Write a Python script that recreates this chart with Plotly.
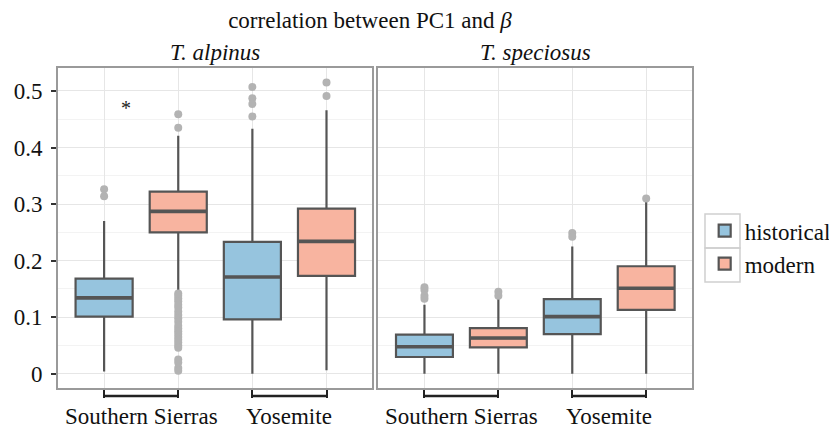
import plotly.graph_objects as go

# ---- data ----
positions = [1, 2, 3, 4]  # SS-hist, SS-mod, Y-hist, Y-mod
site_labels = ["Southern Sierras", "Yosemite"]
site_pos = [1.5, 3.5]
species = ["T. alpinus", "T. speciosus"]

# T. alpinus: historical boxes at x=1 (SS), x=3 (Yosemite); modern at x=2, x=4
alp_hist_x = [1, 3]
alp_hist_q1 = [0.101, 0.096]
alp_hist_med = [0.134, 0.171]
alp_hist_q3 = [0.168, 0.233]
alp_hist_lo = [0.004, 0.0]
alp_hist_hi = [0.270, 0.433]
alp_hist_out_x = [1, 1, 3, 3, 3, 3]
alp_hist_out_y = [0.326, 0.314, 0.507, 0.487, 0.477, 0.455]

alp_mod_x = [2, 4]
alp_mod_q1 = [0.250, 0.173]
alp_mod_med = [0.287, 0.234]
alp_mod_q3 = [0.322, 0.292]
alp_mod_lo = [0.148, 0.006]
alp_mod_hi = [0.421, 0.466]
alp_mod_out_x = [2, 2] + [2] * 23 + [4, 4]
alp_mod_out_y = [0.459, 0.435,
                 0.142, 0.138, 0.133, 0.128, 0.122, 0.117, 0.110, 0.104, 0.098,
                 0.092, 0.085, 0.080, 0.075, 0.070, 0.065, 0.060, 0.055, 0.050,
                 0.046, 0.025, 0.020, 0.010, 0.005,
                 0.515, 0.491]

# T. speciosus
spe_hist_x = [1, 3]
spe_hist_q1 = [0.0295, 0.070]
spe_hist_med = [0.0477, 0.101]
spe_hist_q3 = [0.069, 0.132]
spe_hist_lo = [0.0, 0.0]
spe_hist_hi = [0.122, 0.225]
spe_hist_out_x = [1, 1, 1, 1, 3, 3]
spe_hist_out_y = [0.153, 0.148, 0.138, 0.1325, 0.249, 0.242]

spe_mod_x = [2, 4]
spe_mod_q1 = [0.0465, 0.113]
spe_mod_med = [0.063, 0.151]
spe_mod_q3 = [0.0807, 0.190]
spe_mod_lo = [0.0, 0.0]
spe_mod_hi = [0.132, 0.307]
spe_mod_out_x = [2, 2, 4]
spe_mod_out_y = [0.145, 0.138, 0.310]

y_ticks = [0, 0.1, 0.2, 0.3, 0.4, 0.5]
y_ticktext = ["0", "0.1", "0.2", "0.3", "0.4", "0.5"]

# ---- style ----
FONT = "Liberation Serif"
FS = 23
HIST_FILL = "#96c4de"
MOD_FILL = "#f8b4a0"
LINE = "#555555"
OUT = "#b3b3b3"
BOXW = 0.77

fig = go.Figure()


def add_boxes(xa, ya, x, q1, med, q3, lo, hi, fill, name, show):
    fig.add_trace(go.Box(
        x=x, q1=q1, median=med, q3=q3, lowerfence=lo, upperfence=hi,
        width=BOXW, whiskerwidth=0, boxpoints=False,
        fillcolor=fill, line=dict(color=LINE, width=2.2),
        name=name, legendgroup=name, showlegend=show,
        xaxis=xa, yaxis=ya, hoverinfo="skip"))
    # thicker median bar (ggplot style)
    mx, my = [], []
    for xi, mi in zip(x, med):
        mx += [xi - BOXW / 2, xi + BOXW / 2, None]
        my += [mi, mi, None]
    fig.add_trace(go.Scatter(x=mx, y=my, mode="lines",
                             line=dict(color=LINE, width=3.6),
                             showlegend=False, xaxis=xa, yaxis=ya, hoverinfo="skip"))


def add_out(xa, ya, x, y):
    fig.add_trace(go.Scatter(
        x=x, y=y, mode="markers", marker=dict(color=OUT, size=8),
        showlegend=False, xaxis=xa, yaxis=ya, hoverinfo="skip"))


add_boxes("x", "y", alp_hist_x, alp_hist_q1, alp_hist_med, alp_hist_q3,
          alp_hist_lo, alp_hist_hi, HIST_FILL, "historical", True)
add_boxes("x", "y", alp_mod_x, alp_mod_q1, alp_mod_med, alp_mod_q3,
          alp_mod_lo, alp_mod_hi, MOD_FILL, "modern", True)
add_boxes("x2", "y2", spe_hist_x, spe_hist_q1, spe_hist_med, spe_hist_q3,
          spe_hist_lo, spe_hist_hi, HIST_FILL, "historical", False)
add_boxes("x2", "y2", spe_mod_x, spe_mod_q1, spe_mod_med, spe_mod_q3,
          spe_mod_lo, spe_mod_hi, MOD_FILL, "modern", False)
add_out("x", "y", alp_hist_out_x, alp_hist_out_y)
add_out("x", "y", alp_mod_out_x, alp_mod_out_y)
add_out("x2", "y2", spe_hist_out_x, spe_hist_out_y)
add_out("x2", "y2", spe_mod_out_x, spe_mod_out_y)

xrange = [0.378, 4.62]
yrange = [-0.0253, 0.5406]

xcommon = dict(range=xrange, tickvals=positions, showticklabels=False,
               ticks="outside", ticklen=8, tickwidth=2, tickcolor="#222222",
               showgrid=True, gridcolor="#e6e6e6", gridwidth=1,
               showline=True, linecolor="#9a9a9a", linewidth=1.6, mirror=True,
               zeroline=False, automargin=False)
ycommon = dict(range=yrange, tickvals=y_ticks, showgrid=True,
               gridcolor="#e6e6e6", gridwidth=1,
               minor=dict(dtick=0.05, tick0=0, showgrid=True, gridcolor="#f3f3f3", ticks=""),
               showline=True, linecolor="#9a9a9a", linewidth=1.6, mirror=True,
               zeroline=False, automargin=False)

d1 = [0, 0.496]
d2 = [0.5055, 1]
fig.update_layout(
    xaxis=dict(domain=d1, **xcommon),
    xaxis2=dict(domain=d2, **xcommon),
    yaxis=dict(ticktext=y_ticktext, ticks="outside", ticklen=5, tickwidth=1.5,
               tickcolor="#333333", ticklabelstandoff=4,
               tickfont=dict(family=FONT, size=FS, color="#111111"), **ycommon),
    yaxis2=dict(anchor="x2", matches="y", showticklabels=False, ticks="", **ycommon),
)

# strip (facet) titles
for dom, sp in zip([d1, d2], species):
    fig.add_annotation(text="<i>" + sp + "</i>", xref="paper", yref="paper",
                       x=(dom[0] + dom[1]) / 2, y=1.048, xanchor="center", yanchor="middle",
                       showarrow=False, font=dict(family=FONT, size=FS, color="#111111"))

# x category labels and brackets
for xa in ["x", "x2"]:
    for lab, p in zip(site_labels, site_pos):
        fig.add_annotation(text=lab, xref=xa, yref="paper", x=p, y=-0.09,
                           xanchor="center", yanchor="middle", showarrow=False,
                           font=dict(family=FONT, size=FS, color="#111111"))
        fig.add_shape(type="line", xref=xa, yref="paper", x0=p - 0.5, x1=p + 0.5,
                      y0=-0.025, y1=-0.025, line=dict(color="#222222", width=2.5))

# light frames around the legend keys (ggplot legend key background)
for y0, y1 in [(0.4375, 0.5438), (0.3312, 0.4375)]:
    fig.add_shape(type="rect", xref="paper", yref="paper", x0=1.0205, x1=1.0757,
                  y0=y0, y1=y1, line=dict(color="#cfcfcf", width=1.5),
                  fillcolor="rgba(0,0,0,0)", layer="below")

# significance asterisk
fig.add_annotation(text="*", xref="x", yref="y", x=1.3, y=0.47, showarrow=False,
                   font=dict(family=FONT, size=20, color="#222222"))

# the page body has an 8px margin: shrink the figure by 8px so it fits the window
fig.update_layout(
    width=829, height=422,
    margin=dict(l=50, r=145, t=60, b=42, autoexpand=False),
    paper_bgcolor="white", plot_bgcolor="white",
    boxmode="overlay",
    title=dict(text="correlation between PC1 and <i>β</i>", xref="paper", x=0.492,
               xanchor="center", yref="container", y=0.99, yanchor="top",
               pad=dict(t=0, b=0, l=0, r=0),
               font=dict(family=FONT, size=FS, color="#111111")),
    legend=dict(x=1.02, xanchor="left", y=0.44, yanchor="middle",
                font=dict(family=FONT, size=FS, color="#111111"),
                bgcolor="rgba(0,0,0,0)", tracegroupgap=0),
    font=dict(family=FONT),
)

fig.write_html("out.html")
